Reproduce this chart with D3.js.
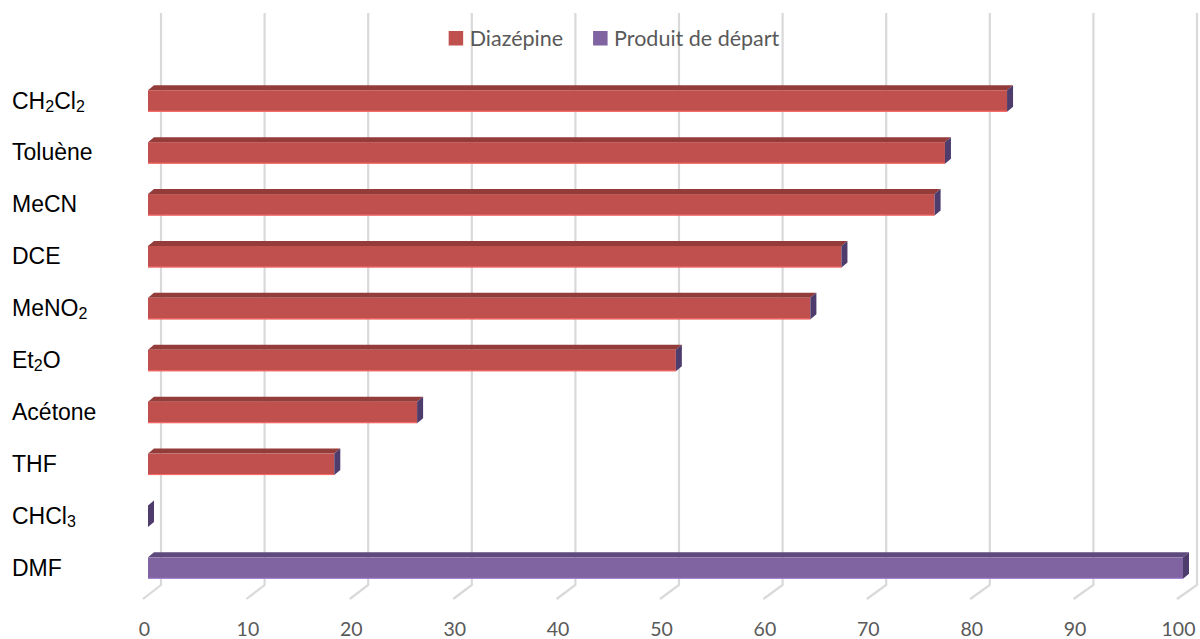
<!DOCTYPE html>
<html>
<head>
<meta charset="utf-8">
<script src="https://cdn.jsdelivr.net/npm/d3@7"></script>
<style>
  html, body { margin: 0; padding: 0; background: #fff; }
  svg { display: block; }
</style>
</head>
<body>
<svg id="chart" width="1200" height="639"></svg>
<script>
// Solvents (digits are drawn as subscripts)
const categories = ["CH2Cl2", "Toluène", "MeCN", "DCE", "MeNO2", "Et2O", "Acétone", "THF", "CHCl3", "DMF"];
// Share of diazepine formed, per solvent (%)
const diazepine = [83, 77, 76, 67, 64, 51, 26, 18, 0, 0];
// Share of starting material recovered, per solvent (%)
const produitDepart = [0, 0, 0, 0, 0, 0, 0, 0, 0, 100];
const seriesNames = ["Diazépine", "Produit de départ"];
const tickValues = [0, 10, 20, 30, 40, 50, 60, 70, 80, 90, 100];

const colors = {
  "Diazépine":         { front: "#C0504D", top: "#933C3A", side: "#7A302E" },
  "Produit de départ": { front: "#8064A2", top: "#5E4A7C", side: "#4D3C6C" }
};

const svg = d3.select("#chart");

// Front face of bars, back wall and front edge of the floor
const xBar   = d3.scaleLinear().domain([0, 100]).range([148, 1183]);
const xWall  = d3.scaleLinear().domain([0, 100]).range([161, 1197]);
const xFloor = d3.scaleLinear().domain([0, 100]).range([144, 1178]);

const y = d3.scaleBand()
  .domain(categories)
  .range([75.05, 594.05])
  .paddingInner(0.586)
  .paddingOuter(0.293);

const depth = { dx: 6, dy: -5 };      // bar thickness in depth
const wallTop = 13, wallBottom = 585, floorFront = 599;

// Gridlines on the back wall, bent onto the floor
const grid = svg.append("g").attr("class", "grid");
tickValues.forEach(v => {
  grid.append("path")
    .attr("d", d3.line()([[xWall(v), wallTop], [xWall(v), wallBottom], [xFloor(v) - 1, floorFront]]))
    .attr("fill", "none")
    .attr("stroke", "#D9D9D9")
    .attr("stroke-width", 2.2);
});

// Stacked data
const rows = categories.map((c, i) => ({ cat: c, "Diazépine": diazepine[i], "Produit de départ": produitDepart[i] }));
const stack = d3.stack().keys(seriesNames)(rows);

const bars = svg.append("g").attr("class", "bars");
categories.forEach((c, i) => {
  const top = y(c), bottom = y(c) + y.bandwidth();
  stack.forEach(layer => {
    const key = layer.key;
    const [v0, v1] = layer[i];
    const x0 = xBar(v0), x1 = xBar(v1);
    const col = colors[key];
    const g = bars.append("g");
    // top face
    g.append("path")
      .attr("d", d3.line()([[x0, top], [x0 + depth.dx, top + depth.dy], [x1 + depth.dx, top + depth.dy], [x1, top]]) + "Z")
      .attr("fill", col.top);
    // front face
    if (x1 - x0 > 0) {
      g.append("rect")
        .attr("x", x0).attr("y", top)
        .attr("width", x1 - x0).attr("height", bottom - top)
        .attr("fill", col.front);
      g.append("line")
        .attr("x1", x0).attr("x2", x1)
        .attr("y1", bottom - 0.5).attr("y2", bottom - 0.5)
        .attr("stroke", d3.color(col.front).brighter(0.8))
        .attr("stroke-width", 1);
    }
  });
  // end face of the stack, coloured by the last series
  const last = stack[stack.length - 1];
  const xe = xBar(last[i][1]);
  bars.append("path")
    .attr("d", d3.line()([[xe, top], [xe + depth.dx, top + depth.dy], [xe + depth.dx, bottom + depth.dy], [xe, bottom]]) + "Z")
    .attr("fill", colors[last.key].side);
});

// Category labels with subscript digits
const labelSize = 23, subSize = 16, subShift = 3;
const labels = svg.append("g").attr("class", "cat-labels")
  .attr("font-family", "'Liberation Sans', Arial, sans-serif")
  .attr("font-size", labelSize)
  .attr("fill", "#000");
categories.forEach(c => {
  const t = labels.append("text")
    .attr("x", 12)
    .attr("y", y(c) + y.bandwidth() / 2 + 7.5);
  const parts = c.match(/\d+|\D+/g);
  let shifted = false;
  parts.forEach(p => {
    const isSub = /\d/.test(p);
    const ts = t.append("tspan").text(p);
    if (isSub) {
      ts.attr("font-size", subSize).attr("dy", subShift);
      shifted = true;
    } else if (shifted) {
      ts.attr("dy", -subShift);
      shifted = false;
    }
  });
});

// Value axis labels along the floor edge
const axis = d3.axisBottom(xFloor).tickValues(tickValues).tickSize(0).tickPadding(0).tickFormat(d3.format("d"));
const axG = svg.append("g").attr("transform", "translate(0, 622)").call(axis);
axG.select(".domain").remove();
axG.selectAll("text")
  .attr("font-family", "Lato, 'Open Sans', sans-serif")
  .attr("font-size", 19.5)
  .attr("fill", "#595959")
  .attr("dy", "0.71em");

// Legend
const legend = svg.append("g").attr("class", "legend")
  .attr("font-family", "Lato, 'Open Sans', sans-serif")
  .attr("font-size", 21.5)
  .attr("fill", "#595959");
let lx = 0;
seriesNames.forEach(name => {
  const g = legend.append("g");
  g.append("rect").attr("x", 0).attr("y", -15).attr("width", 14.5).attr("height", 14.5).attr("fill", colors[name].front);
  const txt = g.append("text").attr("x", 21).attr("y", 0).text(name);
  const w = 21 + txt.node().getComputedTextLength();
  g.attr("transform", `translate(${lx}, 0)`);
  lx += w + 30;
});
const legendWidth = lx - 30;
legend.attr("transform", `translate(${614 - legendWidth / 2}, 46)`);
</script>
</body>
</html>
